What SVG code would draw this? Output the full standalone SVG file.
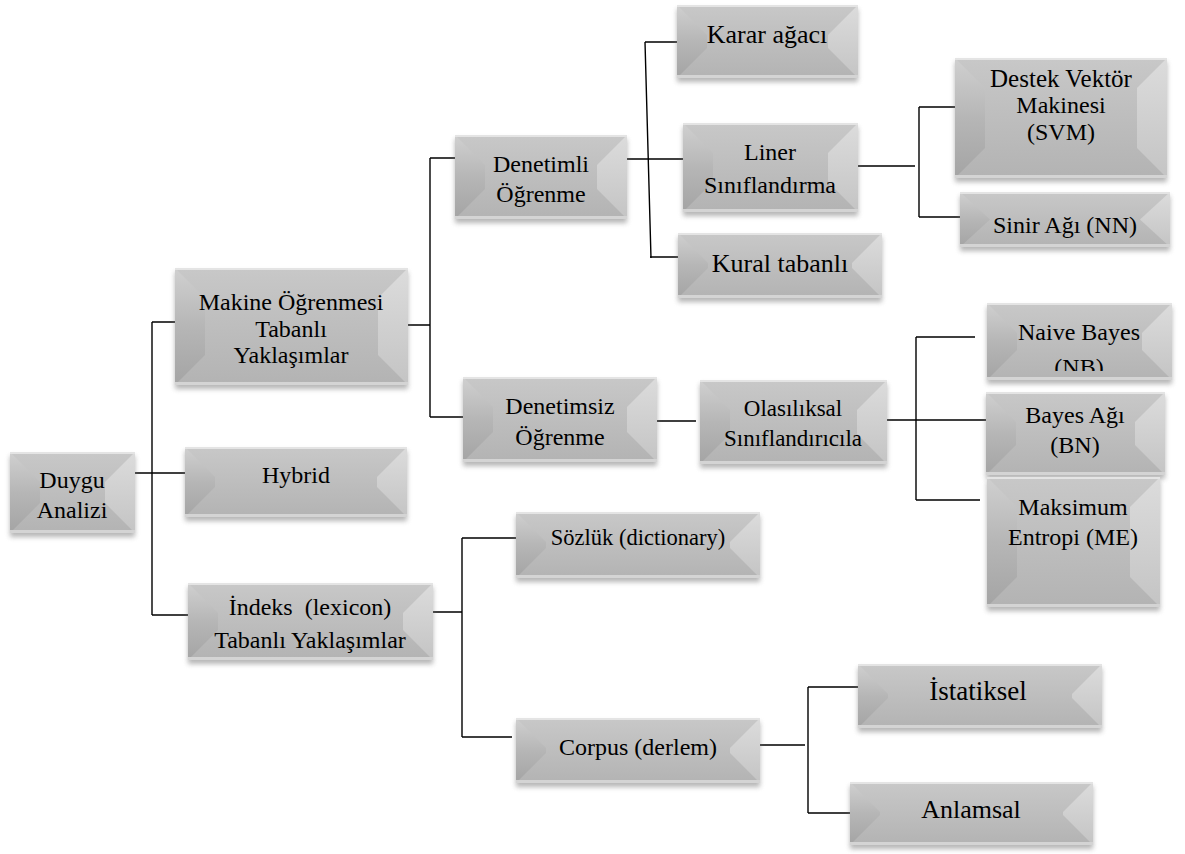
<svg xmlns="http://www.w3.org/2000/svg" width="1185" height="854" viewBox="0 0 1185 854">
<defs>
<linearGradient id="gBase" x1="0" y1="0" x2="0" y2="1"><stop offset="0" stop-color="#c8c8c8"/><stop offset="1" stop-color="#b3b3b3"/></linearGradient>
<linearGradient id="gLeft" x1="0" y1="0" x2="0" y2="1"><stop offset="0" stop-color="#d0d0d0"/><stop offset="0.5" stop-color="#b6b6b6"/><stop offset="1" stop-color="#a4a4a4"/></linearGradient>
<linearGradient id="gRight" x1="0" y1="0" x2="0" y2="1"><stop offset="0" stop-color="#dcdcdc"/><stop offset="1" stop-color="#c4c4c4"/></linearGradient>
<filter id="blur" x="-10%" y="-20%" width="120%" height="150%"><feGaussianBlur stdDeviation="2.5"/></filter>
<clipPath id="clipNB"><rect x="987" y="303" width="185" height="68"/></clipPath>
</defs>
<style>
.sh{fill:#7a7a7a;opacity:.55;filter:url(#blur)}
.base{fill:url(#gBase)}
.bl{fill:url(#gLeft)}
.br{fill:url(#gRight)}
.bt{fill:#e4e4e4}
.bb{fill:#d4d4d4}
.t{font-family:"Liberation Serif","Times New Roman",serif;font-size:24px;text-anchor:middle;fill:#000}
.big{font-size:26px}
.c{fill:none;stroke:#000;stroke-width:1.4}
</style>
<g id="connectors">
<path class="c" d="M135,473H185 M152,322V615 M152,322H175 M152,615H188"/>
<path class="c" d="M408,325H430 M430,158V417 M430,158H455 M430,417H463"/>
<path class="c" d="M627,159H683 M645,42L651,258 M645,42H677 M650,257H678"/>
<path class="c" d="M858,166H915 M919,107V217 M919,107H955 M919,217H960"/>
<path class="c" d="M657,421H696 M887,420H986 M916,337V500 M916,337H975 M916,500H980"/>
<path class="c" d="M433,612H462 M462,538V737 M462,538H516 M462,737H512"/>
<path class="c" d="M760,745H805 M808,687V813 M808,687H858 M808,813H850"/>
</g>
<g id="n-duygu">
<rect class="sh" x="10" y="456" width="125" height="81"/>
<rect class="base" x="10" y="452" width="125" height="81"/>
<polygon class="bl" points="10,452 40,482 40,503 10,533"/>
<polygon class="br" points="135,452 105,482 105,503 135,533"/>
<rect class="bt" x="10" y="452" width="125" height="2"/><rect class="bb" x="10" y="530" width="125" height="3"/>
<text class="t" x="72" y="488">Duygu</text><text class="t" x="72" y="518">Analizi</text>
</g>
<g id="n-makine">
<rect class="sh" x="175" y="272" width="233" height="117"/>
<rect class="base" x="175" y="268" width="233" height="117"/>
<polygon class="bl" points="175,268 205,298 205,355 175,385"/>
<polygon class="br" points="408,268 378,298 378,355 408,385"/>
<rect class="bt" x="175" y="268" width="233" height="2"/><rect class="bb" x="175" y="382" width="233" height="3"/>
<text class="t" x="291" y="310">Makine Öğrenmesi</text><text class="t" x="291" y="337">Tabanlı</text><text class="t" x="291" y="363">Yaklaşımlar</text>
</g>
<g id="n-hybrid">
<rect class="sh" x="185" y="451" width="222" height="70"/>
<rect class="base" x="185" y="447" width="222" height="70"/>
<polygon class="bl" points="185,447 215,477 215,487 185,517"/>
<polygon class="br" points="407,447 377,477 377,487 407,517"/>
<rect class="bt" x="185" y="447" width="222" height="2"/><rect class="bb" x="185" y="514" width="222" height="3"/>
<text class="t" x="296" y="483">Hybrid</text>
</g>
<g id="n-indeks">
<rect class="sh" x="188" y="587" width="245" height="77"/>
<rect class="base" x="188" y="583" width="245" height="77"/>
<polygon class="bl" points="188,583 218,613 218,630 188,660"/>
<polygon class="br" points="433,583 403,613 403,630 433,660"/>
<rect class="bt" x="188" y="583" width="245" height="2"/><rect class="bb" x="188" y="657" width="245" height="3"/>
<text class="t" x="310" y="615" xml:space="preserve">İndeks  (lexicon)</text><text class="t" x="310" y="648">Tabanlı Yaklaşımlar</text>
</g>
<g id="n-denetimli">
<rect class="sh" x="455" y="139" width="172" height="84"/>
<rect class="base" x="455" y="135" width="172" height="84"/>
<polygon class="bl" points="455,135 485,165 485,189 455,219"/>
<polygon class="br" points="627,135 597,165 597,189 627,219"/>
<rect class="bt" x="455" y="135" width="172" height="2"/><rect class="bb" x="455" y="216" width="172" height="3"/>
<text class="t" x="541" y="172">Denetimli</text><text class="t" x="541" y="202">Öğrenme</text>
</g>
<g id="n-denetimsiz">
<rect class="sh" x="463" y="381" width="194" height="85"/>
<rect class="base" x="463" y="377" width="194" height="85"/>
<polygon class="bl" points="463,377 493,407 493,432 463,462"/>
<polygon class="br" points="657,377 627,407 627,432 657,462"/>
<rect class="bt" x="463" y="377" width="194" height="2"/><rect class="bb" x="463" y="459" width="194" height="3"/>
<text class="t" x="560" y="414">Denetimsiz</text><text class="t" x="560" y="445">Öğrenme</text>
</g>
<g id="n-karar">
<rect class="sh" x="677" y="9" width="181" height="73"/>
<rect class="base" x="677" y="5" width="181" height="73"/>
<polygon class="bl" points="677,5 707,35 707,48 677,78"/>
<polygon class="br" points="858,5 828,35 828,48 858,78"/>
<rect class="bt" x="677" y="5" width="181" height="2"/><rect class="bb" x="677" y="75" width="181" height="3"/>
<text class="t big" x="767" y="43">Karar ağacı</text>
</g>
<g id="n-liner">
<rect class="sh" x="683" y="127" width="175" height="89"/>
<rect class="base" x="683" y="123" width="175" height="89"/>
<polygon class="bl" points="683,123 713,153 713,182 683,212"/>
<polygon class="br" points="858,123 828,153 828,182 858,212"/>
<rect class="bt" x="683" y="123" width="175" height="2"/><rect class="bb" x="683" y="209" width="175" height="3"/>
<text class="t" x="770" y="160">Liner</text><text class="t" x="770" y="193">Sınıflandırma</text>
</g>
<g id="n-kural">
<rect class="sh" x="678" y="237" width="204" height="65"/>
<rect class="base" x="678" y="233" width="204" height="65"/>
<polygon class="bl" points="678,233 708,263 708,268 678,298"/>
<polygon class="br" points="882,233 852,263 852,268 882,298"/>
<rect class="bt" x="678" y="233" width="204" height="2"/><rect class="bb" x="678" y="295" width="204" height="3"/>
<text class="t big" x="780" y="272">Kural tabanlı</text>
</g>
<g id="n-svm">
<rect class="sh" x="955" y="62" width="212" height="120"/>
<rect class="base" x="955" y="58" width="212" height="120"/>
<polygon class="bl" points="955,58 985,88 985,148 955,178"/>
<polygon class="br" points="1167,58 1137,88 1137,148 1167,178"/>
<rect class="bt" x="955" y="58" width="212" height="2"/><rect class="bb" x="955" y="175" width="212" height="3"/>
<text class="t" x="1061" y="87" style="font-size:25px">Destek Vektör</text><text class="t" x="1061" y="113">Makinesi</text><text class="t" x="1061" y="140">(SVM)</text>
</g>
<g id="n-nn">
<rect class="sh" x="960" y="196" width="210" height="55"/>
<rect class="base" x="960" y="192" width="210" height="55"/>
<polygon class="bl" points="960,192 990,219.5 960,247"/>
<polygon class="br" points="1170,192 1140,219.5 1170,247"/>
<rect class="bt" x="960" y="192" width="210" height="2"/><rect class="bb" x="960" y="244" width="210" height="3"/>
<text class="t" x="1065" y="233">Sinir Ağı (NN)</text>
</g>
<g id="n-olasiliksal">
<rect class="sh" x="700" y="384" width="187" height="84"/>
<rect class="base" x="700" y="380" width="187" height="84"/>
<polygon class="bl" points="700,380 730,410 730,434 700,464"/>
<polygon class="br" points="887,380 857,410 857,434 887,464"/>
<rect class="bt" x="700" y="380" width="187" height="2"/><rect class="bb" x="700" y="461" width="187" height="3"/>
<text class="t" x="793" y="416" style="font-size:23px">Olasılıksal</text><text class="t" x="793" y="446" style="font-size:23px">Sınıflandırıcıla</text>
</g>
<g id="n-nb">
<rect class="sh" x="987" y="307" width="185" height="77"/>
<rect class="base" x="987" y="303" width="185" height="77"/>
<polygon class="bl" points="987,303 1017,333 1017,350 987,380"/>
<polygon class="br" points="1172,303 1142,333 1142,350 1172,380"/>
<rect class="bt" x="987" y="303" width="185" height="2"/><rect class="bb" x="987" y="377" width="185" height="3"/>
<g clip-path="url(#clipNB)"><text class="t" x="1079" y="340">Naive Bayes</text><text class="t" x="1079" y="375">(NB)</text></g>
</g>
<g id="n-bn">
<rect class="sh" x="986" y="396" width="179" height="83"/>
<rect class="base" x="986" y="392" width="179" height="83"/>
<polygon class="bl" points="986,392 1016,422 1016,445 986,475"/>
<polygon class="br" points="1165,392 1135,422 1135,445 1165,475"/>
<rect class="bt" x="986" y="392" width="179" height="2"/><rect class="bb" x="986" y="472" width="179" height="3"/>
<text class="t" x="1075" y="423">Bayes Ağı</text><text class="t" x="1075" y="453">(BN)</text>
</g>
<g id="n-me">
<rect class="sh" x="987" y="481" width="173" height="130"/>
<rect class="base" x="987" y="477" width="173" height="130"/>
<polygon class="bl" points="987,477 1017,507 1017,577 987,607"/>
<polygon class="br" points="1160,477 1130,507 1130,577 1160,607"/>
<rect class="bt" x="987" y="477" width="173" height="2"/><rect class="bb" x="987" y="604" width="173" height="3"/>
<text class="t" x="1073" y="515">Maksimum</text><text class="t" x="1073" y="545">Entropi (ME)</text>
</g>
<g id="n-sozluk">
<rect class="sh" x="516" y="516" width="244" height="66"/>
<rect class="base" x="516" y="512" width="244" height="66"/>
<polygon class="bl" points="516,512 546,542 546,548 516,578"/>
<polygon class="br" points="760,512 730,542 730,548 760,578"/>
<rect class="bt" x="516" y="512" width="244" height="2"/><rect class="bb" x="516" y="575" width="244" height="3"/>
<text class="t" x="638" y="545" style="font-size:22.5px">Sözlük (dictionary)</text>
</g>
<g id="n-corpus">
<rect class="sh" x="516" y="722" width="244" height="65"/>
<rect class="base" x="516" y="718" width="244" height="65"/>
<polygon class="bl" points="516,718 546,748 546,753 516,783"/>
<polygon class="br" points="760,718 730,748 730,753 760,783"/>
<rect class="bt" x="516" y="718" width="244" height="2"/><rect class="bb" x="516" y="780" width="244" height="3"/>
<text class="t" x="638" y="755">Corpus (derlem)</text>
</g>
<g id="n-istatiksel">
<rect class="sh" x="858" y="668" width="244" height="64"/>
<rect class="base" x="858" y="664" width="244" height="64"/>
<polygon class="bl" points="858,664 888,694 888,698 858,728"/>
<polygon class="br" points="1102,664 1072,694 1072,698 1102,728"/>
<rect class="bt" x="858" y="664" width="244" height="2"/><rect class="bb" x="858" y="725" width="244" height="3"/>
<text class="t" x="978" y="700" style="font-size:27px">İstatiksel</text>
</g>
<g id="n-anlamsal">
<rect class="sh" x="850" y="786" width="243" height="63"/>
<rect class="base" x="850" y="782" width="243" height="63"/>
<polygon class="bl" points="850,782 880,812 880,815 850,845"/>
<polygon class="br" points="1093,782 1063,812 1063,815 1093,845"/>
<rect class="bt" x="850" y="782" width="243" height="2"/><rect class="bb" x="850" y="842" width="243" height="3"/>
<text class="t big" x="971" y="818">Anlamsal</text>
</g>
</svg>
